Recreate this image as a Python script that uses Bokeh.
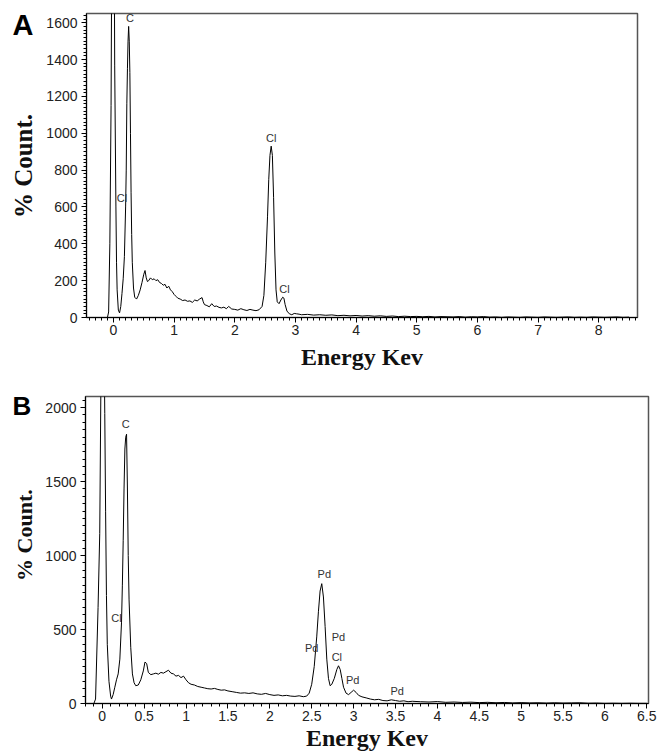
import math
from bokeh.plotting import figure
from bokeh.layouts import column, row
from bokeh.models import SingleIntervalTicker, Range1d, Label, ColumnDataSource
from bokeh.core.properties import value
from bokeh.embed import file_html
from bokeh.resources import INLINE

# ---------------- Panel A data ----------------
a_energy = [-0.10, -0.08, -0.06, -0.04, -0.02, 0.00, 0.02, 0.04, 0.05, 0.06, 0.08, 0.10,
            0.12, 0.14, 0.16, 0.18, 0.20, 0.21, 0.22, 0.23, 0.24, 0.25, 0.26, 0.27, 0.28,
            0.29, 0.30, 0.31, 0.33, 0.35, 0.38, 0.41, 0.44, 0.47, 0.50, 0.52, 0.54, 0.56,
            0.58, 0.61, 0.64, 0.67, 0.70, 0.73, 0.76, 0.79, 0.82, 0.85, 0.88, 0.91, 0.94,
            0.97, 1.00, 1.03, 1.06, 1.10, 1.14, 1.18, 1.22, 1.26, 1.30, 1.34, 1.38, 1.42,
            1.46, 1.48, 1.50, 1.54, 1.58, 1.62, 1.66, 1.70, 1.74, 1.78, 1.82, 1.86, 1.90,
            1.95, 2.00, 2.05, 2.10, 2.15, 2.20, 2.25, 2.30, 2.35, 2.40, 2.45, 2.48, 2.51,
            2.54, 2.56, 2.58, 2.60, 2.62, 2.64, 2.66, 2.68, 2.70, 2.73, 2.76, 2.79, 2.81,
            2.83, 2.86, 2.90, 2.94, 2.98, 3.02, 3.06, 3.10, 3.20, 3.30, 3.40, 3.50, 3.60,
            3.70, 3.80, 3.90, 4.00, 4.10, 4.20, 4.30, 4.40, 4.50, 4.60, 4.70, 4.80, 4.90,
            5.00, 5.10, 5.20, 5.30, 5.40, 5.50, 5.60, 5.70, 5.80, 5.90, 6.00, 6.10, 6.20,
            6.30, 6.40, 6.50, 6.60, 6.70, 6.80, 6.90, 7.00, 7.10, 7.20, 7.30, 7.40, 7.50,
            7.60, 7.70, 7.80, 7.90, 8.00, 8.10, 8.20, 8.30, 8.40, 8.50, 8.60]
a_count = [0, 30, 400, 1150, 2600, 3200, 1370, 600, 300, 150, 40, 25,
           60, 130, 210, 330, 600, 800, 1160, 1350, 1500, 1580, 1500, 1330, 1000,
           680, 450, 300, 160, 110, 100, 120, 150, 190, 235, 255, 215, 195,
           200, 215, 205, 210, 200, 205, 190, 185, 175, 180, 160, 170,
           150, 140, 125, 115, 105, 100, 92, 95, 88, 90, 82, 95, 90,
           100, 108, 85, 70, 65, 58, 75, 60, 62, 55, 52, 56, 48,
           60, 46, 44, 40, 48, 42, 38, 44, 40, 37, 42, 60, 120,
           300, 550, 750, 880, 930, 880, 650, 350, 150, 85, 75, 95, 110,
           105, 70, 35, 20, 15, 22, 20, 18, 15, 17, 13, 15, 12,
           14, 10, 12, 9, 11, 8, 10, 7, 9, 6, 8, 5, 7,
           5, 6, 4, 6, 3, 5, 4, 3, 5, 2, 4, 3, 5,
           2, 3, 1, 3, 2, 1, 3, 2, 1, 3, 2, 1, 2,
           3, 1, 2, 1, 3, 2, 1, 2, 3, 1, 2]
a_label_text = ["C", "Cl", "Cl", "Cl"]
a_label_x = [0.27, 0.14, 2.60, 2.82]
a_label_y = [1625, 650, 975, 155]

# ---------------- Panel B data ----------------
b_energy = [-0.10, -0.08, -0.05, -0.03, -0.01, 0.01, 0.03, 0.04, 0.05, 0.06, 0.08, 0.10,
            0.11, 0.13, 0.15, 0.17, 0.19, 0.21, 0.23, 0.24, 0.25, 0.26, 0.27, 0.28, 0.29,
            0.30, 0.31, 0.32, 0.34, 0.36, 0.38, 0.40, 0.43, 0.46, 0.49, 0.51, 0.53, 0.55,
            0.58, 0.61, 0.64, 0.67, 0.70, 0.73, 0.76, 0.79, 0.82, 0.85, 0.88, 0.91, 0.94,
            0.97, 1.00, 1.03, 1.06, 1.10, 1.14, 1.18, 1.22, 1.26, 1.30, 1.34, 1.38, 1.42,
            1.46, 1.50, 1.55, 1.60, 1.65, 1.70, 1.75, 1.80, 1.85, 1.90, 1.95, 2.00, 2.05,
            2.10, 2.15, 2.20, 2.25, 2.30, 2.35, 2.40, 2.44, 2.47, 2.50, 2.53, 2.56, 2.58,
            2.60, 2.62, 2.64, 2.66, 2.68, 2.70, 2.72, 2.74, 2.77, 2.80, 2.82, 2.84, 2.86,
            2.88, 2.91, 2.94, 2.97, 3.00, 3.03, 3.06, 3.10, 3.15, 3.20, 3.25, 3.30, 3.35,
            3.40, 3.45, 3.50, 3.55, 3.60, 3.65, 3.70, 3.80, 3.90, 4.00, 4.10, 4.20, 4.30,
            4.40, 4.50, 4.60, 4.70, 4.80, 4.90, 5.00, 5.10, 5.20, 5.30, 5.40, 5.50, 5.60,
            5.70, 5.80, 5.90, 6.00, 6.10, 6.20, 6.30, 6.40, 6.50]
b_count = [0, 30, 650, 1150, 2600, 3200, 1960, 1300, 730, 400, 150, 50,
           30, 60, 110, 160, 200, 300, 550, 800, 1100, 1450, 1720, 1800, 1820,
           1470, 1000, 700, 380, 200, 140, 120, 125, 160, 220, 280, 270, 210,
           195, 200, 205, 198, 210, 205, 215, 225, 205, 200, 185, 190, 175,
           185, 160, 140, 130, 125, 115, 110, 105, 100, 98, 102, 95, 90,
           92, 85, 80, 75, 70, 72, 68, 72, 65, 62, 68, 60, 55,
           58, 52, 55, 50, 48, 52, 46, 50, 70, 130, 250, 450, 620,
           760, 810, 720, 520, 300, 170, 120, 130, 170, 230, 255, 230, 170,
           110, 70, 60, 75, 90, 75, 55, 45, 38, 30, 25, 28, 20,
           18, 25, 20, 15, 18, 12, 15, 12, 10, 13, 8, 10, 7,
           9, 6, 8, 5, 7, 4, 6, 4, 5, 3, 5, 3, 4,
           5, 2, 3, 1, 2, 1, 2, 1, 1]
b_label_text = ["C", "Cl", "Pd", "Pd", "Pd", "Cl", "Pd", "Pd"]
b_label_x = [0.28, 0.17, 2.65, 2.50, 2.82, 2.80, 2.99, 3.52]
b_label_y = [1890, 575, 875, 375, 450, 315, 160, 85]

SANS = "Liberation Sans"
SERIF = "Liberation Serif"
Y_TITLE = "% Count."
X_TITLE = "Energy Kev"
SIDE_W = 40


def style_axes(p, xint, xminor, yint, yminor, xstand):
    p.xaxis.ticker = SingleIntervalTicker(interval=xint, num_minor_ticks=xminor)
    p.yaxis.ticker = SingleIntervalTicker(interval=yint, num_minor_ticks=yminor)
    for ax in (p.xaxis[0], p.yaxis[0]):
        ax.axis_line_color = "black"
        ax.axis_line_width = 1
        ax.major_tick_line_color = "black"
        ax.minor_tick_line_color = "black"
        ax.major_tick_in = 0
        ax.major_tick_out = 5
        ax.minor_tick_in = 0
        ax.minor_tick_out = 3
        ax.major_label_text_font = SANS
        ax.major_label_text_font_size = "14px"
        ax.major_label_text_color = "#222222"
    p.xaxis.major_label_standoff = 2
    p.yaxis.major_label_standoff = 4
    p.xaxis.axis_label = X_TITLE
    p.xaxis.axis_label_text_font = SERIF
    p.xaxis.axis_label_text_font_style = "bold"
    p.xaxis.axis_label_text_font_size = "24px"
    p.xaxis.axis_label_text_color = "#111111"
    p.xaxis.axis_label_standoff = xstand
    p.xgrid.visible = False
    p.ygrid.visible = False
    p.outline_line_color = "#555555"
    p.outline_line_width = 1.5


def make_side(letter, h, bt, bb, letter_size, letter_above, title_x, title_y, title_size):
    fh = h - bt - bb
    s = figure(width=SIDE_W, height=h, x_range=Range1d(0, SIDE_W), y_range=Range1d(0, fh),
               output_backend="svg", toolbar_location=None,
               min_border_left=0, min_border_right=0,
               min_border_top=bt, min_border_bottom=bb,
               x_axis_location=None, y_axis_location=None)
    s.outline_line_color = None
    s.xgrid.visible = False
    s.ygrid.visible = False
    s.add_layout(Label(x=12, y=fh + letter_above, text=letter, text_font=SANS,
                       text_font_size=letter_size, text_font_style="bold",
                       text_color="black", text_align="left", text_baseline="top"))
    s.add_layout(Label(x=title_x, y=title_y, text=Y_TITLE, angle=math.pi / 2,
                       text_font=SERIF, text_font_size=title_size, text_font_style="bold",
                       text_color="#111111", text_align="center", text_baseline="middle"))
    return s


def make_panel(energy, count, ltext, lx, ly, xr, yr, w, h, bl, br, bt, bb,
               xint, xminor, yint, yminor, xstand):
    p = figure(width=w, height=h, x_range=Range1d(*xr), y_range=Range1d(*yr),
               output_backend="svg", toolbar_location=None,
               min_border_left=bl, min_border_right=br,
               min_border_top=bt, min_border_bottom=bb)
    p.line(energy, count, line_color="black", line_width=1)
    src = ColumnDataSource(dict(x=lx, y=ly, t=ltext))
    p.text(x="x", y="y", text="t", source=src, text_font=value(SANS),
           text_font_size="11px", text_color="#333333",
           text_align="center", text_baseline="middle")
    style_axes(p, xint, xminor, yint, yminor, xstand)
    return p


HA, HB = 372, 381
BT_A, BB_A = 13, 54
BT_B, BB_B = 24, 49
pA = make_panel(a_energy, a_count, a_label_text, a_label_x, a_label_y,
                (-0.445, 8.64), (0, 1650), 650 - SIDE_W, HA, 86 - SIDE_W, 13, BT_A, BB_A,
                1, 10, 200, 10, 6)
pB = make_panel(b_energy, b_count, b_label_text, b_label_x, b_label_y,
                (-0.2, 6.52), (0, 2075), 657 - SIDE_W, HB, 85 - SIDE_W, 9, BT_B, BB_B,
                0.5, 5, 500, 10, 1)
sA = make_side("A", HA, BT_A, BB_A, "29px", 5, 22.5, 152, "25px")
sB = make_side("B", HB, BT_B, BB_B, "26px", 6, 23.5, 169, "22px")

layout = column(row(sA, pA), row(sB, pB))
open("out.html", "w").write(file_html(layout, INLINE))
